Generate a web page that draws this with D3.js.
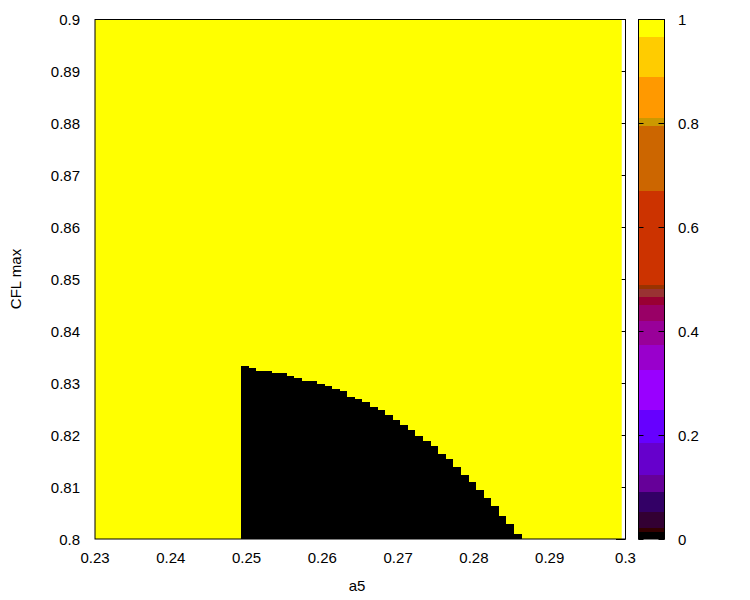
<!DOCTYPE html>
<html>
<head>
<meta charset="utf-8">
<title>CFL max vs a5</title>
<script src="https://cdn.jsdelivr.net/npm/d3@7"></script>
<style>
body { margin: 0; background: #fff; }
text { font-family: "Liberation Sans", Arial, sans-serif; font-size: 15px; fill: #000; }
</style>
</head>
<body>
<script>
// a5 grid columns where the region is black (value 0), and the CFL max reached in each
var a5 = [0.250, 0.251, 0.252, 0.253, 0.254, 0.255, 0.256, 0.257, 0.258, 0.259,
          0.260, 0.261, 0.262, 0.263, 0.264, 0.265, 0.266, 0.267, 0.268, 0.269,
          0.270, 0.271, 0.272, 0.273, 0.274, 0.275, 0.276, 0.277, 0.278, 0.279,
          0.280, 0.281, 0.282, 0.283, 0.284, 0.285, 0.286];
var cflMax = [0.8333, 0.8329, 0.8323, 0.8323, 0.8319, 0.8319, 0.8313, 0.8310, 0.8304, 0.8304,
              0.8298, 0.8294, 0.8288, 0.8285, 0.8273, 0.8269, 0.8263, 0.8254, 0.8248, 0.8238,
              0.8229, 0.8219, 0.8210, 0.8198, 0.8188, 0.8179, 0.8163, 0.8154, 0.8138, 0.8123,
              0.8110, 0.8094, 0.8079, 0.8063, 0.8044, 0.8029, 0.8010];
var a5Extent = [0.23, 0.2995];      // extent of the sampled map
var cflExtent = [0.8, 0.9];

var xTicks = [0.23, 0.24, 0.25, 0.26, 0.27, 0.28, 0.29, 0.3];
var yTicks = [0.8, 0.81, 0.82, 0.83, 0.84, 0.85, 0.86, 0.87, 0.88, 0.89, 0.9];
var cbTicks = [0, 0.2, 0.4, 0.6, 0.8, 1];

// colour box bands (lower bound of each band) and their colours
var cbStops = [0, 0.014, 0.022, 0.0525, 0.091, 0.123, 0.184, 0.248, 0.325, 0.373,
               0.420, 0.450, 0.466, 0.480, 0.488, 0.669, 0.795, 0.810, 0.889, 0.966];
var cbColors = ["#000000", "#330000", "#330033", "#330066", "#660099", "#6600cc", "#6600ff", "#9900ff", "#9900cc", "#990099",
                "#990066", "#990033", "#993333", "#993300", "#cc3300", "#cc6600", "#cc9900", "#ff9900", "#ffcc00", "#ffff00"];

var w = 750, h = 600;
var svg = d3.select("body").append("svg")
            .attr("width", w)
            .attr("height", h);

var x = d3.scaleLinear().domain([0.23, 0.3]).range([95, 625.5]);
var y = d3.scaleLinear().domain([0.8, 0.9]).range([539, 19]);
var c = d3.scaleLinear().domain([0, 1]).range([539, 19]);

// right-side ticks (drawn behind the map, as in the original)
svg.selectAll("line.rtick")
   .data(yTicks)
   .enter()
   .append("line")
   .attr("x1", 625.5).attr("x2", 616)
   .attr("y1", function(d) { return Math.round(y(d)) + 0.5; })
   .attr("y2", function(d) { return Math.round(y(d)) + 0.5; })
   .attr("stroke", "#000");

// value 1 background
svg.append("rect")
   .attr("x", x(a5Extent[0]))
   .attr("y", y(cflExtent[1]))
   .attr("width", x(a5Extent[1]) - x(a5Extent[0]))
   .attr("height", y(cflExtent[0]) - y(cflExtent[1]))
   .attr("fill", "#ffff00");

// value 0 columns
svg.selectAll("rect.cell")
   .data(a5)
   .enter()
   .append("rect")
   .attr("class", "cell")
   .attr("x", function(d) { return x(d - 0.00075); })
   .attr("width", function(d) { return x(d + 0.00025) - x(d - 0.00075) + 0.3; })
   .attr("y", function(d, i) { return y(cflMax[i]); })
   .attr("height", function(d, i) { return y(0.8) - y(cflMax[i]); })
   .attr("fill", "#000")
   .attr("shape-rendering", "crispEdges");

// border
svg.append("rect")
   .attr("x", 95).attr("y", 19.5)
   .attr("width", 530.5).attr("height", 519.5)
   .attr("fill", "none")
   .attr("stroke", "#000");

// tick labels
svg.selectAll("text.xl")
   .data(xTicks)
   .enter()
   .append("text")
   .attr("x", function(d) { return x(d); })
   .attr("y", 563)
   .attr("text-anchor", "middle")
   .text(function(d) { return d; });

svg.selectAll("text.yl")
   .data(yTicks)
   .enter()
   .append("text")
   .attr("x", 80)
   .attr("y", function(d) { return y(d) + 5.5; })
   .attr("text-anchor", "end")
   .text(function(d) { return d; });

// axis titles
svg.append("text")
   .attr("x", 357).attr("y", 591)
   .attr("text-anchor", "middle")
   .text("a5");

svg.append("text")
   .attr("transform", "translate(21,279) rotate(-90)")
   .attr("text-anchor", "middle")
   .text("CFL max");

// colour box
var cbX = 638.5, cbW = 26;
svg.selectAll("rect.band")
   .data(cbStops)
   .enter()
   .append("rect")
   .attr("x", cbX)
   .attr("width", cbW)
   .attr("y", function(d, i) { return c(i < cbStops.length - 1 ? cbStops[i + 1] : 1); })
   .attr("height", function(d, i) { return c(d) - c(i < cbStops.length - 1 ? cbStops[i + 1] : 1); })
   .attr("fill", function(d, i) { return cbColors[i]; })
   .attr("shape-rendering", "crispEdges");

svg.selectAll("line.cbl")
   .data(cbTicks)
   .enter()
   .append("line")
   .attr("x1", cbX).attr("x2", cbX + 5)
   .attr("y1", function(d) { return Math.round(c(d)) + 0.5; })
   .attr("y2", function(d) { return Math.round(c(d)) + 0.5; })
   .attr("stroke", "#000");
svg.selectAll("line.cbr")
   .data(cbTicks)
   .enter()
   .append("line")
   .attr("x1", cbX + cbW - 6).attr("x2", cbX + cbW)
   .attr("y1", function(d) { return Math.round(c(d)) + 0.5; })
   .attr("y2", function(d) { return Math.round(c(d)) + 0.5; })
   .attr("stroke", "#000");

svg.append("rect")
   .attr("x", cbX).attr("y", 19.5)
   .attr("width", cbW).attr("height", 519.5)
   .attr("fill", "none")
   .attr("stroke", "#000");

svg.selectAll("text.cl")
   .data(cbTicks)
   .enter()
   .append("text")
   .attr("x", 678)
   .attr("y", function(d) { return c(d) + 5.5; })
   .text(function(d) { return d; });
</script>
</body>
</html>
